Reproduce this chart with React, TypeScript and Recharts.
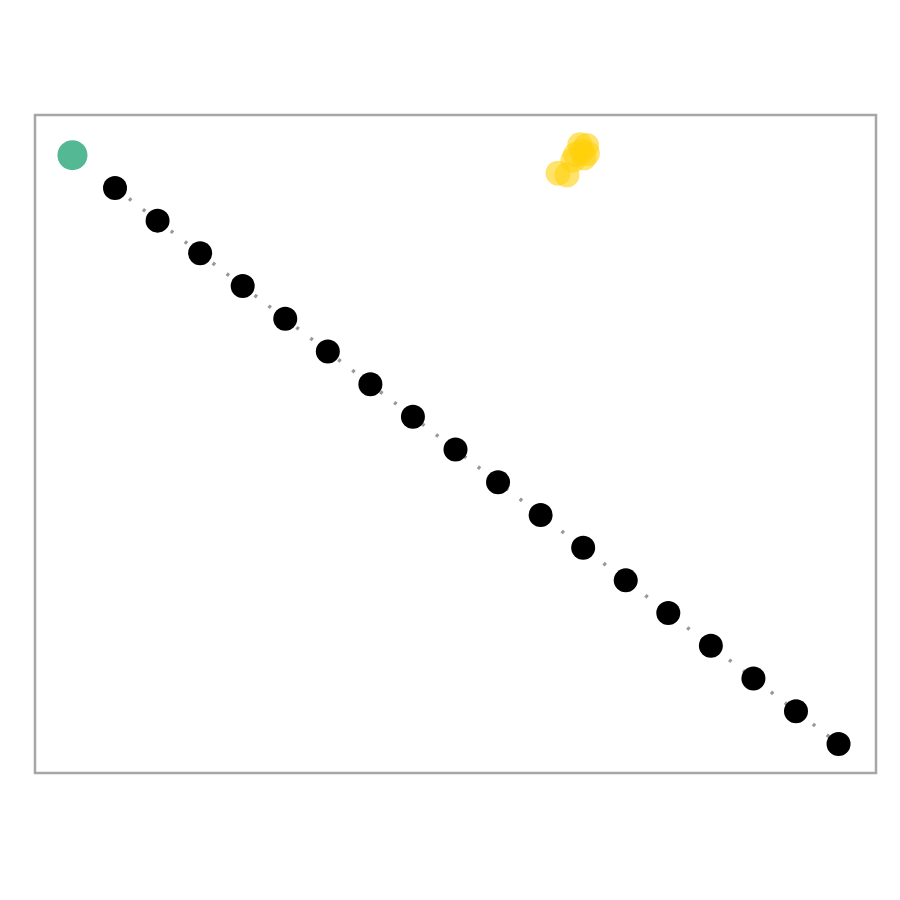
import { ScatterChart, Scatter, XAxis, YAxis, ReferenceArea } from "recharts";

// main diagonal series (black dots joined by dotted line)
const lineX = [1, 2, 3, 4, 5, 6, 7, 8, 9, 10, 11, 12, 13, 14, 15, 16, 17, 18];
const lineY = [17, 16, 15, 14, 13, 12, 11, 10, 9, 8, 7, 6, 5, 4, 3, 2, 1, 0];

// starting point
const startX = [0];
const startY = [18];

// cluster of yellow points
const clusterX = [11.41, 11.62, 11.76, 11.82, 11.97, 11.92, 12.08, 12.1, 12.02];
const clusterY = [17.45, 17.4, 17.85, 18.02, 18.12, 18.32, 18.3, 18.05, 17.92];

const X_DOMAIN = [-0.88, 18.88];
const Y_DOMAIN = [-0.89, 19.23];

const zip = (xs: number[], ys: number[]) => xs.map((x, i) => ({ x, y: ys[i] }));

const lineData = zip(lineX, lineY);
const startData = zip(startX, startY);
const clusterData = zip(clusterX, clusterY);

const dot = (r: number, fill: string, opacity = 1) => (props: any) => (
  <circle cx={props.cx} cy={props.cy} r={r} fill={fill} fillOpacity={opacity} />
);

export default function App() {
  return (
    <div style={{ position: "absolute", left: 0, top: 0, background: "#fff" }}>
      <ScatterChart width={900} height={900} margin={{ top: 115, right: 24, bottom: 127, left: 35 }}>
        <XAxis type="number" dataKey="x" domain={X_DOMAIN} hide allowDataOverflow />
        <YAxis type="number" dataKey="y" domain={Y_DOMAIN} hide allowDataOverflow />
        <ReferenceArea
          x1={X_DOMAIN[0]}
          x2={X_DOMAIN[1]}
          y1={Y_DOMAIN[0]}
          y2={Y_DOMAIN[1]}
          fill="none"
          stroke="#a6a6a6"
          strokeWidth={2.5}
          fillOpacity={0}
        />
        <Scatter
          data={lineData}
          line={{ stroke: "#999999", strokeWidth: 3.5, strokeDasharray: "3 14.6" }}
          shape={dot(12, "#000000")}
          isAnimationActive={false}
        />
        <Scatter data={startData} shape={dot(15, "#55b895")} isAnimationActive={false} />
        <Scatter data={clusterData} shape={dot(12.5, "#ffd10a", 0.6)} isAnimationActive={false} />
      </ScatterChart>
    </div>
  );
}
